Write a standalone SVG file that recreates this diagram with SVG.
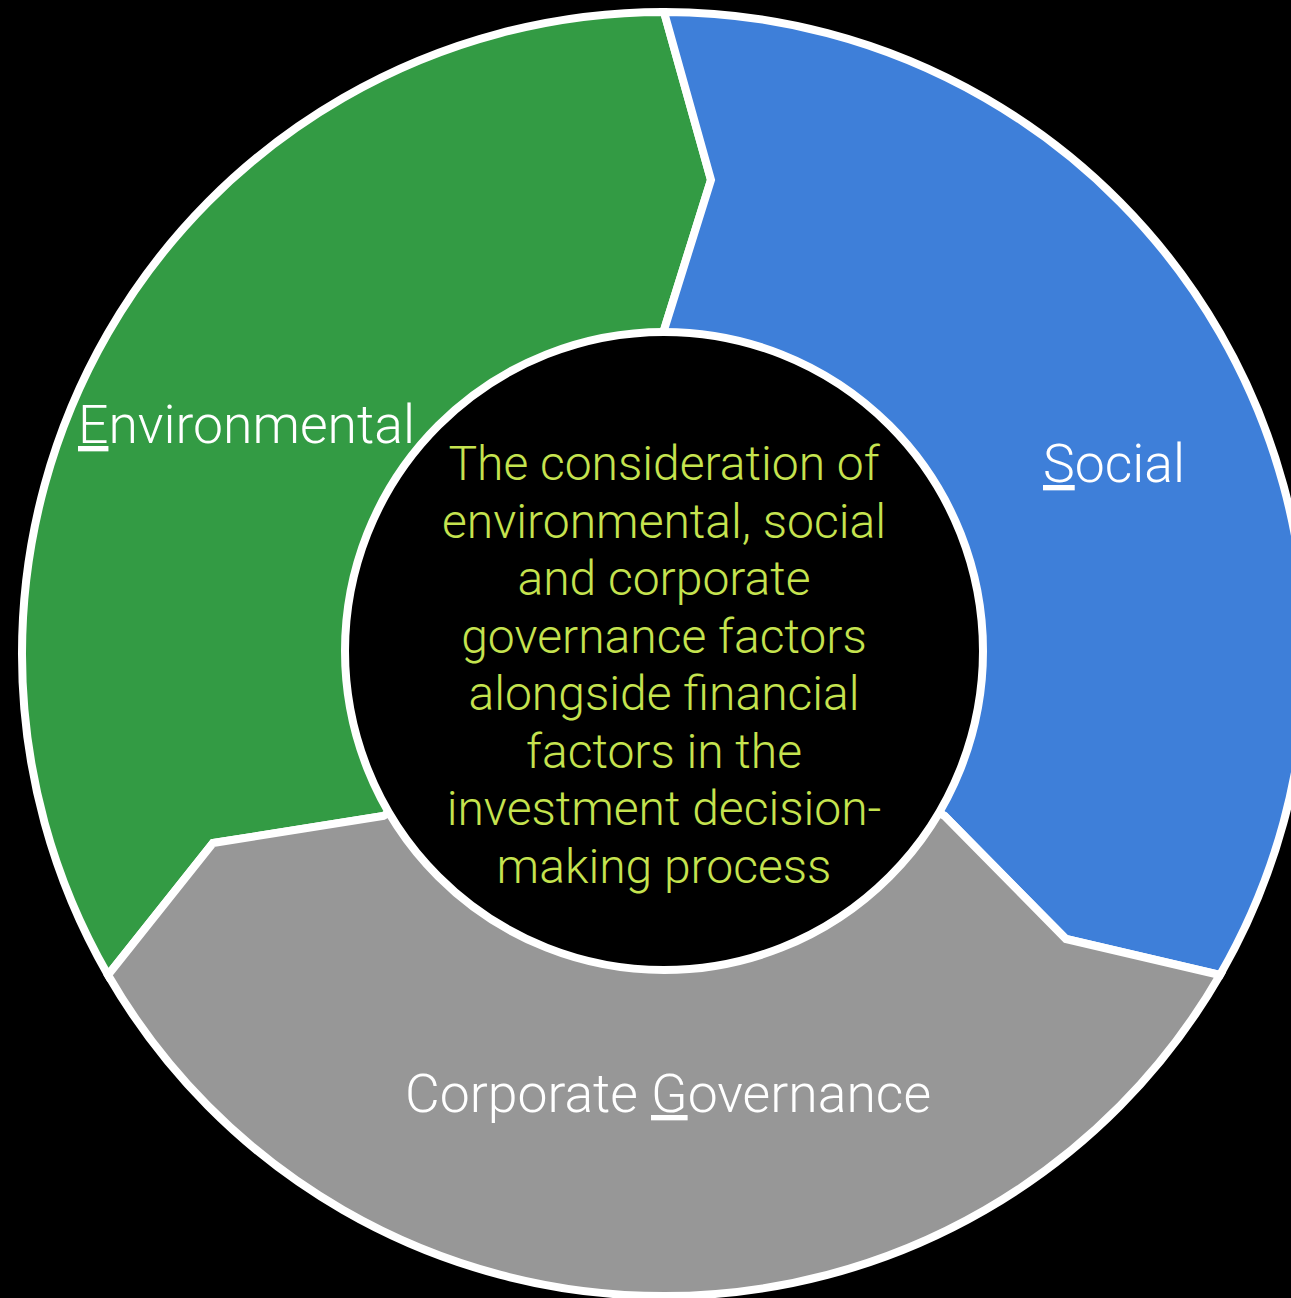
<svg xmlns="http://www.w3.org/2000/svg" width="1291" height="1298" viewBox="0 0 1291 1298">
  <style>
    .seg { stroke: #ffffff; stroke-width: 8; stroke-linejoin: miter; }
    .label { font-family: Roboto, "Liberation Sans", sans-serif; font-weight: 300; font-size: 53.5px; fill: #ffffff; }
    .core { font-family: Roboto, "Liberation Sans", sans-serif; font-weight: 300; font-size: 48px; fill: #c5e34f; text-anchor: middle; }
    .ul { text-decoration: underline; }
  </style>
  <rect x="0" y="0" width="1291" height="1298" fill="#000000"/>

  <!-- ring segments: each ends in a chevron pointing clockwise -->
  <g id="segment-environmental">
    <path class="seg" fill="#339b44" d="M108,975 A642,642 0 0 1 664,12 L711,180 L664,330 L664,354 A300,300 0 0 0 404.2,804 L383.4,816 L213,843 Z"/>
    <text class="label" x="78" y="443"><tspan class="ul">E</tspan>nvironmental</text>
  </g>
  <g id="segment-social">
    <path class="seg" fill="#3e7fd9" d="M664,12 A642,642 0 0 1 1220,975 L1066,939 L944.6,816 L923.8,804 A300,300 0 0 0 664,354 L664,330 L711,180 Z"/>
    <text class="label" x="1043" y="482"><tspan class="ul">S</tspan>ocial</text>
  </g>
  <g id="segment-governance">
    <path class="seg" fill="#979797" d="M1220,975 A642,642 0 0 1 108,975 L213,843 L383.4,816 L404.2,804 A300,300 0 0 0 923.8,804 L944.6,816 L1066,939 Z"/>
    <text class="label" x="405" y="1112">Corporate <tspan class="ul">G</tspan>overnance</text>
  </g>

  <!-- central definition disc -->
  <g id="core">
    <circle cx="664" cy="651" r="319" fill="#000000" stroke="#ffffff" stroke-width="8"/>
    <text class="core"><tspan x="664" y="480">The consideration of</tspan><tspan x="664" y="537.5">environmental, social</tspan><tspan x="664" y="595">and corporate</tspan><tspan x="664" y="652.5">governance factors</tspan><tspan x="664" y="710">alongside financial</tspan><tspan x="664" y="767.5">factors in the</tspan><tspan x="664" y="825">investment decision-</tspan><tspan x="664" y="882.5">making process</tspan></text>
  </g>

  <g id="connectors"/>
</svg>
